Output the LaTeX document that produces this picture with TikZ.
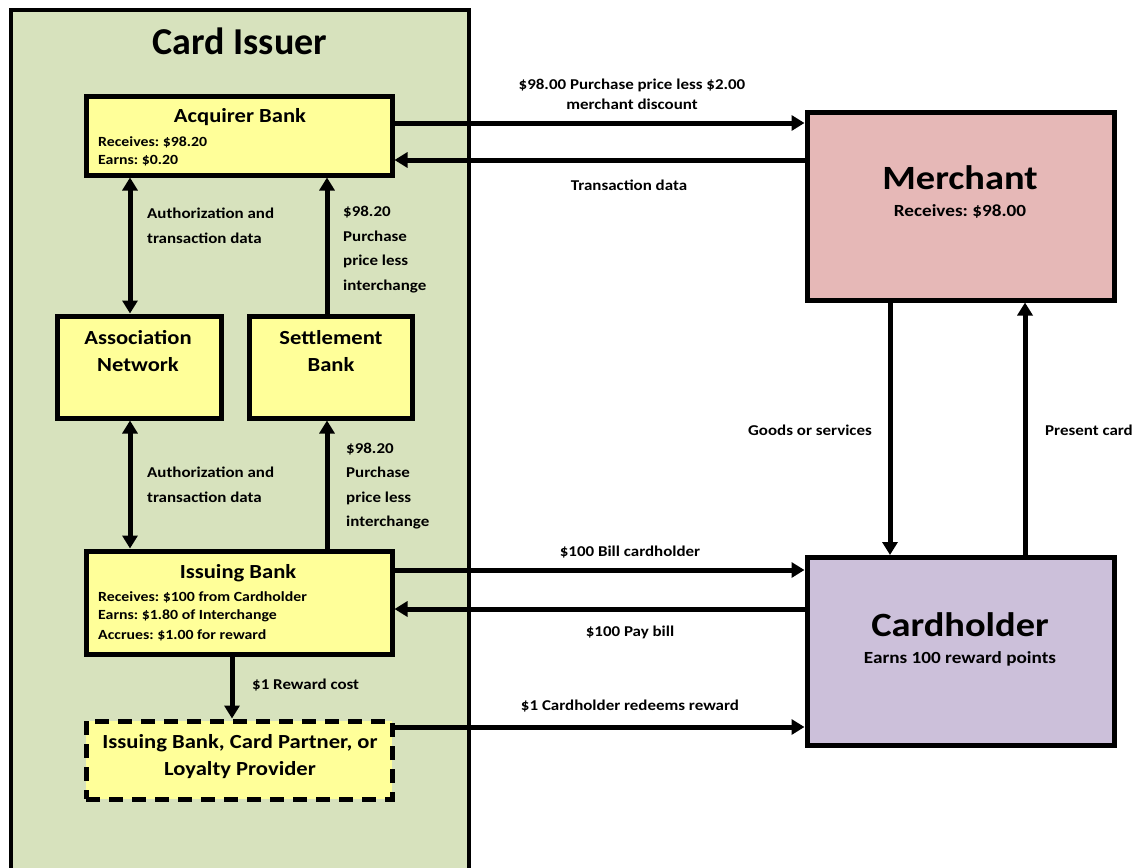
\documentclass[tikz,border=0pt]{standalone}
\usepackage{fontspec}
\setmainfont{Carlito}[FakeStretch=1.13]
\newfontfamily\plainfont{Carlito}
\frenchspacing
\usetikzlibrary{arrows.meta}

\definecolor{issuergreen}{RGB}{215,226,189}
\definecolor{boxyellow}{RGB}{255,255,153}
\definecolor{merchantpink}{RGB}{230,184,183}
\definecolor{holderlilac}{RGB}{204,192,218}

\def\banks{{(239,135.5)/acq/306/79}, {(139,367)/assoc/164/102}, {(330.5,367)/settle/163/102}, {(239,602.5)/iss/306/103}}
\def\parties{{(960.5,206)/merch/merchantpink}, {(960.5,651.5)/holder/holderlilac}}

\tikzstyle{issuer} = [draw, line width=4pt, fill=issuergreen, inner sep=0pt, minimum width=458.5pt, minimum height=870pt]
\tikzstyle{bank} = [draw, line width=5pt, fill=boxyellow, inner sep=0pt]
\tikzstyle{party} = [draw, line width=5pt, inner sep=0pt, minimum width=307pt, minimum height=188pt]
\tikzstyle{rewardbox} = [draw, line width=5pt, fill=boxyellow, dash pattern=on 14pt off 9pt, inner sep=0pt, minimum width=306pt, minimum height=78pt]
\tikzstyle{flow} = [draw, line width=5pt, -{Triangle[width=15pt,length=13pt]}]
\tikzstyle{twoway} = [draw, line width=5pt, {Triangle[width=15pt,length=13pt]}-{Triangle[width=15pt,length=13pt]}]
\tikzstyle{note} = [font=\fontsize{15}{25}\selectfont\bfseries, inner sep=0pt, align=left]
\tikzstyle{small} = [font=\fontsize{14}{19}\selectfont\bfseries, inner sep=0pt, anchor=west]
\tikzstyle{boxtext} = [font=\fontsize{20}{27}\selectfont\bfseries, inner sep=0pt, align=center]
\tikzstyle{bigtext} = [font=\fontsize{34}{36}\selectfont\bfseries, inner sep=0pt]
\tikzstyle{subtext} = [font=\fontsize{17}{20}\selectfont\bfseries, inner sep=0pt]

\begin{document}
\begin{tikzpicture}[x=1pt, y=-1pt]
  \useasboundingbox (0,0) rectangle (1139,867);
  \clip (0,0) rectangle (1139,867);

  % The card issuer area
  \node[issuer] (issuer) at (239.75,445) {};
  \node[font=\plainfont\fontsize{38}{40}\selectfont\bfseries, inner sep=0pt] (issuertitle) at (240,41) {Card Issuer};

  % The banks inside it
  \foreach \pos/\name/\w/\h in \banks
    \node[bank, minimum width=\w pt, minimum height=\h pt] (\name) at \pos {};
  \node[rewardbox] (reward) at (239,760) {};

  % The merchant and the cardholder
  \foreach \pos/\name/\col in \parties
    \node[party, fill=\col] (\name) at \pos {};

  % Texts in the boxes
  \node[boxtext] (acqtitle) at (240,117) {Acquirer Bank};
  \node[small] (acqrec) at (98,142) {Receives: \$98.20};
  \node[small] (acqearn) at (98,161) {Earns: \$0.20};
  \node[boxtext] (assoctext) at (138,351.5) {Association\\Network};
  \node[boxtext] (settletext) at (331,351.5) {Settlement\\Bank};
  \node[boxtext] (isstitle) at (238,573) {Issuing Bank};
  \node[small] (issrec) at (98,597) {Receives: \$100 from Cardholder};
  \node[small] (issearn) at (98,616) {Earns: \$1.80 of Interchange};
  \node[small] (issacc) at (98,635) {Accrues: \$1.00 for reward};
  \node[boxtext] (rewardtext) at (240,756.5) {Issuing Bank, Card Partner, or\\Loyalty Provider};
  \node[bigtext] (merchtitle) at (960,178) {Merchant};
  \node[subtext] (merchrec) at (960,211) {Receives: \$98.00};
  \node[bigtext] (holdertitle) at (960,625) {Cardholder};
  \node[subtext] (holderearn) at (960,659) {Earns 100 reward points};

  % The flows between them
  \path[twoway] (130,0 |- assoc.north) -- (130,0 |- acq.south);
  \path[twoway] (130,0 |- iss.north) -- (130,0 |- assoc.south);
  \path[flow] (327,0 |- settle.north) -- (327,0 |- acq.south);
  \path[flow] (327,0 |- iss.north) -- (327,0 |- settle.south);
  \path[flow] (232,0 |- iss.south) -- (232,0 |- reward.north);
  \path[flow] (acq.east |- 0,123) -- (merch.west |- 0,123);
  \path[flow] (merch.west |- 0,160) -- (acq.east |- 0,160);
  \path[flow] (iss.east |- 0,570) -- (holder.west |- 0,570);
  \path[flow] (holder.west |- 0,609) -- (iss.east |- 0,609);
  \path[flow] (reward.east |- 0,727) -- (holder.west |- 0,727);
  \path[flow] (890,0 |- merch.south) -- (890,0 |- holder.north);
  \path[flow] (1025,0 |- holder.north) -- (1025,0 |- merch.south);

  % Their labels
  \node[note, align=center, font=\fontsize{15}{20}\selectfont\bfseries] (discount) at (632,94) {\$98.00 Purchase price less \$2.00\\merchant discount};
  \node[note] (txdata) at (629,185) {Transaction data};
  \node[note, anchor=west] (auth1) at (147,226) {Authorization and\\transaction data};
  \node[note, anchor=west, font=\fontsize{15}{24.5}\selectfont\bfseries] (settle1) at (343,249.5) {\$98.20\\Purchase\\price less\\interchange};
  \node[note, anchor=west] (auth2) at (147,485) {Authorization and\\transaction data};
  \node[note, anchor=west, font=\fontsize{15}{24.5}\selectfont\bfseries] (settle2) at (346,486) {\$98.20\\Purchase\\price less\\interchange};
  \node[note, anchor=west] (rewardcost) at (252,685) {\$1 Reward cost};
  \node[note] (bill) at (630,552) {\$100 Bill cardholder};
  \node[note] (pay) at (630,632) {\$100 Pay bill};
  \node[note] (redeem) at (630,706) {\$1 Cardholder redeems reward};
  \node[note] (goods) at (810,430) {Goods or services};
  \node[note, anchor=west] (present) at (1045,430) {Present card};
\end{tikzpicture}
\end{document}
